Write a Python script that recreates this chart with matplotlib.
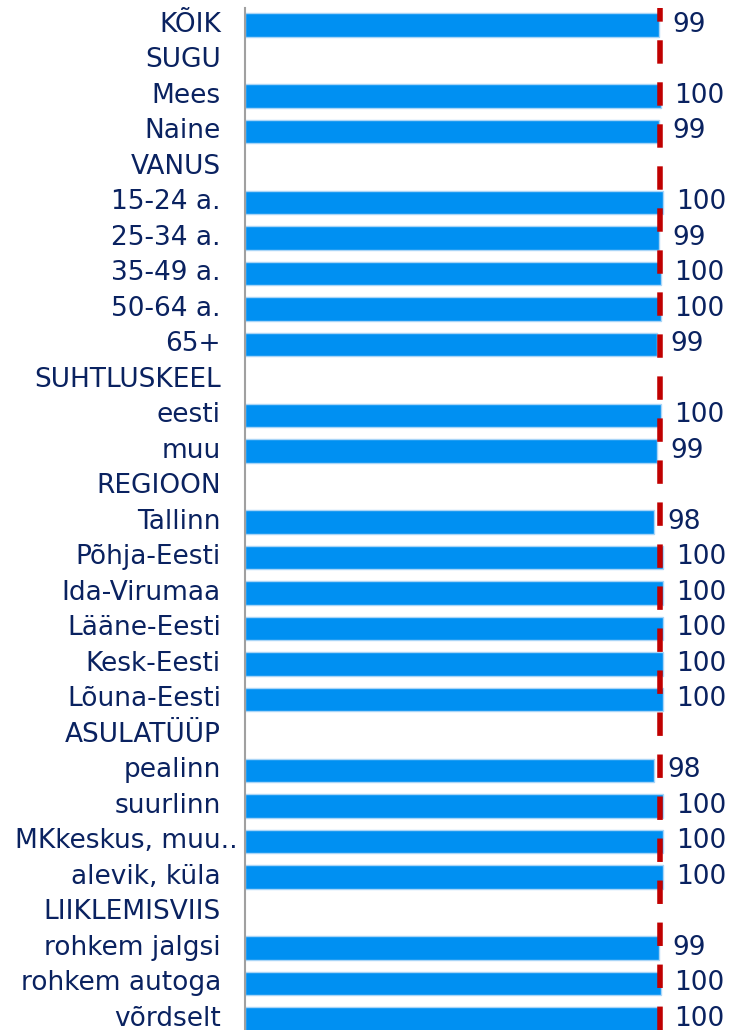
import matplotlib
matplotlib.use("Agg")
import matplotlib.pyplot as plt
import numpy as np

categories = ["KÕIK", "SUGU", "Mees", "Naine", "VANUS", "15-24 a.", "25-34 a.",
              "35-49 a.", "50-64 a.", "65+", "SUHTLUSKEEL", "eesti", "muu",
              "REGIOON", "Tallinn", "Põhja-Eesti", "Ida-Virumaa", "Lääne-Eesti",
              "Kesk-Eesti", "Lõuna-Eesti", "ASULATÜÜP", "pealinn", "suurlinn",
              "MKkeskus, muu..", "alevik, küla", "LIIKLEMISVIIS", "rohkem jalgsi",
              "rohkem autoga", "võrdselt"]
# None = group header (no bar)
values = [99.1, None, 99.6, 99.1, None, 100.0, 99.1, 99.6, 99.6, 98.6, None,
          99.6, 98.6, None, 97.9, 100.0, 100.0, 100.0, 100.0, 100.0, None,
          97.9, 100.0, 100.0, 100.0, None, 99.1, 99.6, 99.6]
value_labels = ["99", "", "100", "99", "", "100", "99", "100", "100", "99", "",
                "100", "99", "", "98", "100", "100", "100", "100", "100", "",
                "98", "100", "100", "100", "", "99", "100", "100"]
reference_value = 99.2

W, H = 729, 1030
fig = plt.figure(figsize=(W / 100, H / 100), dpi=100)
ax = fig.add_axes([245 / W, 0.0, 1 - 245 / W, 1 - 8.3 / H])

text_color = "#0A2260"
bar_color = "#0090F2"
fs = 19

ypos = np.arange(len(categories))
for y, v, lab in zip(ypos, values, value_labels):
    if v is None:
        continue
    ax.barh(y, v, height=0.66, color=bar_color, edgecolor="#A9D5F7",
            linewidth=1.0, zorder=2)
    ax.annotate(lab, xy=(v, y), xytext=(9.5, 2.2), textcoords="offset points",
                ha="left", va="center_baseline", fontsize=fs, color=text_color,
                zorder=4)

lw = 4.0
ax.axvline(reference_value, color="#C00000", linewidth=lw,
           linestyle=(0, (16.85 / lw, 13.4 / lw)), zorder=3)

for y, c in zip(ypos, categories):
    off = -17.3
    if c.endswith(".."):
        off = -5.0
    ax.annotate(c, xy=(0, y), xycoords=("axes fraction", "data"),
                xytext=(off, 2.2), textcoords="offset points",
                ha="right", va="center_baseline", fontsize=fs,
                color=text_color, annotation_clip=False)

ax.set_xlim(0, (W - 245) / 4.18)
ax.set_ylim(28.31, -0.47)
ax.set_xticks([])
ax.set_yticks([])
for s in ["top", "right", "bottom"]:
    ax.spines[s].set_visible(False)
ax.spines["left"].set_color("#A0A0A0")
ax.spines["left"].set_linewidth(1.5)
ax.spines["left"].set_zorder(5)

fig.savefig("out.png", dpi=100)
